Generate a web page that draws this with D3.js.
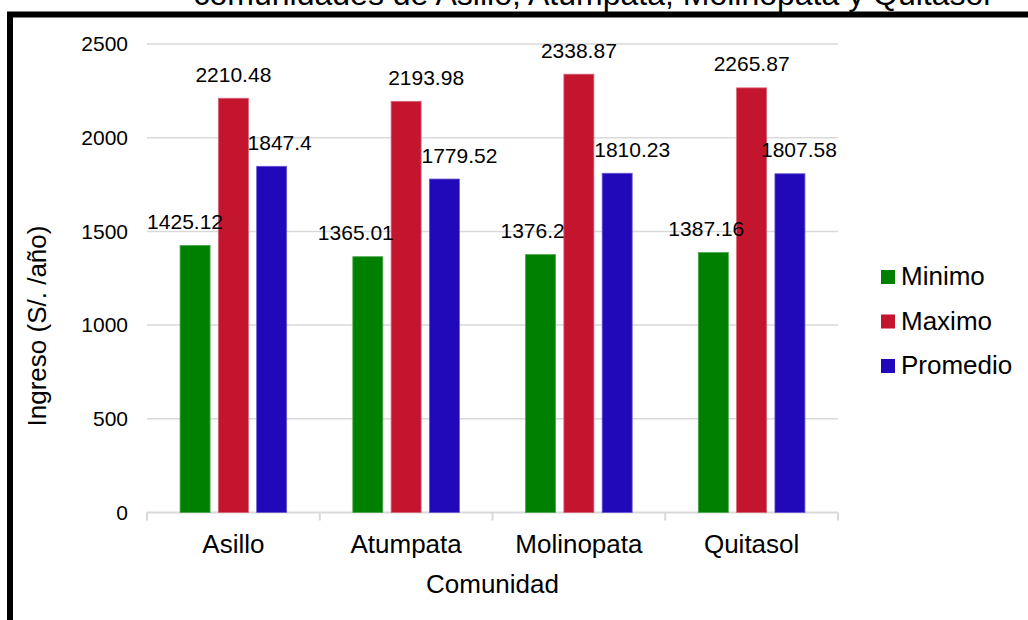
<!DOCTYPE html>
<html>
<head>
<meta charset="utf-8">
<script src="https://cdn.jsdelivr.net/npm/d3@7"></script>
<style>
  html, body { margin: 0; padding: 0; background: #fff; }
  svg { display: block; font-family: "Liberation Sans", Arial, sans-serif; }
</style>
</head>
<body>
<svg id="chart" width="1028" height="620"></svg>
<script>
// ---- data ----
const titleText = "comunidades de Asillo, Atumpata, Molinopata y Quitasol";
const categories = ["Asillo", "Atumpata", "Molinopata", "Quitasol"];
const seriesNames = ["Minimo", "Maximo", "Promedio"];
const minimo = [1425.12, 1365.01, 1376.2, 1387.16];
const maximo = [2210.48, 2193.98, 2338.87, 2265.87];
const promedio = [1847.4, 1779.52, 1810.23, 1807.58];
const yTicks = [0, 500, 1000, 1500, 2000, 2500];
const xAxisTitle = "Comunidad";
const yAxisTitle = "Ingreso (S/. /año)";

// ---- layout / style ----
const colors = ["#008000", "#c4152f", "#2108b9"];
const strokeColors = ["#4da64d", "#d66478", "#6a58d0"];
// horizontal nudges of the data labels (px), per series, per category
const labelDx = [[-10, -12, -8, -7], [0, 20, 0, 0], [8, 15, 15, 9]];

const svg = d3.select("#chart");
const plot = { left: 147, right: 838, top: 44, bottom: 512.5 };

const x0 = d3.scaleBand().domain(categories).range([plot.left, plot.right]).paddingInner(0).paddingOuter(0);
const barW = 30, barStep = 38.3;
const y = d3.scaleLinear().domain([0, 2500]).range([plot.bottom, plot.top]);

const seriesData = [minimo, maximo, promedio];

// title (partially cut at top)
svg.append("text")
  .attr("x", 592).attr("y", 5)
  .attr("text-anchor", "middle")
  .attr("font-size", 32)
  .attr("fill", "#000")
  .text(titleText);

// gridlines
svg.append("g").selectAll("line")
  .data(yTicks.filter(d => d > 0))
  .join("line")
  .attr("x1", plot.left).attr("x2", plot.right)
  .attr("y1", d => y(d)).attr("y2", d => y(d))
  .attr("stroke", "#d9d9d9").attr("stroke-width", 1.5);

// y tick labels
svg.append("g").selectAll("text")
  .data(yTicks)
  .join("text")
  .attr("x", 128).attr("y", d => y(d))
  .attr("dy", "0.35em")
  .attr("text-anchor", "end")
  .attr("font-size", 21)
  .attr("fill", "#000")
  .text(d => d);

// x axis line + ticks at band boundaries
const xAxis = d3.axisBottom(x0).tickSize(0).tickFormat("");
svg.append("g").attr("transform", `translate(0,${plot.bottom})`).call(xAxis)
  .call(g => g.select(".domain").attr("stroke", "#d9d9d9").attr("stroke-width", 2).attr("d", `M${plot.left},0H${plot.right}`));
const boundaries = categories.map(c => x0(c)).concat([x0(categories[categories.length - 1]) + x0.bandwidth()]);
svg.append("g").selectAll("line").data(boundaries).join("line")
  .attr("x1", d => d).attr("x2", d => d)
  .attr("y1", plot.bottom).attr("y2", plot.bottom + 8)
  .attr("stroke", "#d9d9d9").attr("stroke-width", 2);

// bars
const barX = (ci, si) => x0(categories[ci]) + x0.bandwidth() / 2 + (si - 1) * barStep - barW / 2;
seriesData.forEach((vals, si) => {
  svg.append("g").selectAll("rect")
    .data(vals)
    .join("rect")
    .attr("x", (d, i) => barX(i, si))
    .attr("y", d => y(d))
    .attr("width", barW)
    .attr("height", d => y(0) - y(d))
    .attr("fill", colors[si])
    .attr("stroke", strokeColors[si])
    .attr("stroke-width", 0.8);
});
// data labels drawn above all bars
seriesData.forEach((vals, si) => {
  svg.append("g").selectAll("text")
    .data(vals)
    .join("text")
    .attr("x", (d, i) => barX(i, si) + barW / 2 + labelDx[si][i])
    .attr("y", d => y(d) - 16.5)
    .attr("text-anchor", "middle")
    .attr("font-size", 21)
    .attr("fill", "#000")
    .text(d => d);
});

// category labels
svg.append("g").selectAll("text")
  .data(categories)
  .join("text")
  .attr("x", d => x0(d) + x0.bandwidth() / 2)
  .attr("y", 553)
  .attr("text-anchor", "middle")
  .attr("font-size", 26)
  .attr("fill", "#000")
  .text(d => d);

// axis titles
svg.append("text")
  .attr("x", (plot.left + plot.right) / 2).attr("y", 593)
  .attr("text-anchor", "middle")
  .attr("font-size", 26)
  .attr("fill", "#000")
  .text(xAxisTitle);
svg.append("text")
  .attr("transform", `translate(46,326) rotate(-90)`)
  .attr("text-anchor", "middle")
  .attr("font-size", 26)
  .attr("fill", "#000")
  .text(yAxisTitle);

// legend
const legend = svg.append("g").selectAll("g")
  .data(seriesNames)
  .join("g")
  .attr("transform", (d, i) => `translate(881,${270 + i * 44.5})`);
legend.append("rect").attr("width", 14).attr("height", 14).attr("fill", (d, i) => colors[i]);
legend.append("text").attr("x", 20).attr("y", 15)
  .attr("font-size", 26).attr("fill", "#000").text(d => d);

// outer frame (extends past right and bottom edges)
svg.append("rect")
  .attr("x", 10).attr("y", 14.5)
  .attr("width", 1040).attr("height", 640)
  .attr("fill", "none")
  .attr("stroke", "#000")
  .attr("stroke-width", 6);
</script>
</body>
</html>
